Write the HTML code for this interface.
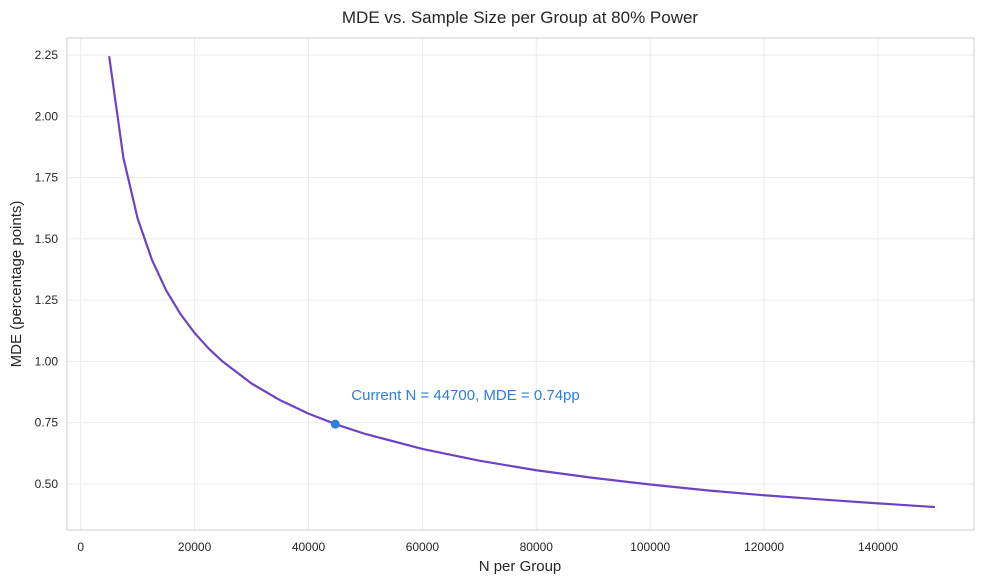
<!DOCTYPE html>
<html><head><meta charset="utf-8"><style>
body{margin:0;background:#fff;}
svg{display:block;font-family:"Liberation Sans","DejaVu Sans",sans-serif;}
</style></head><body>
<svg id="chart" width="984" height="584"></svg>
<script>
const xTicks=[0,20000,40000,60000,80000,100000,120000,140000];
const yTicks=[0.50,0.75,1.00,1.25,1.50,1.75,2.00,2.25];
const nValues=[5000,7500,10000,12500,15000,17500,20000,22500,25000,30000,35000,40000,45000,50000,60000,70000,80000,90000,100000,110000,120000,130000,140000,150000];
const mdeValues=[2.245,1.830,1.583,1.415,1.290,1.194,1.116,1.052,0.998,0.910,0.842,0.787,0.742,0.704,0.643,0.595,0.556,0.525,0.498,0.474,0.454,0.437,0.421,0.406];
const currentN=[44700];
const currentMDE=[0.744];

const NS="http://www.w3.org/2000/svg";
const svg=document.getElementById('chart');
const L=67,R=974,T=38,B=530;
const sx=v=>80.7+v*113.9/20000;
const sy=v=>484-(v-0.5)*(484-55)/1.75;
function mk(tag,attrs,parent){const e=document.createElementNS(NS,tag);for(const k in attrs)e.setAttribute(k,attrs[k]);(parent||svg).appendChild(e);return e;}

const grid=mk('g',{});


xTicks.forEach(t=>{mk('line',{x1:sx(t),x2:sx(t),y1:T,y2:B,stroke:'#ebebeb','stroke-width':1},grid);});
yTicks.forEach(t=>{mk('line',{x1:L,x2:R,y1:sy(t),y2:sy(t),stroke:'#ebebeb','stroke-width':1},grid);});

const frame=mk('rect',{x:L,y:T,width:R-L,height:B-T,fill:'none',stroke:'#cccccc','stroke-width':1});



xTicks.forEach(t=>{const e=mk('text',{x:sx(t),y:551,'text-anchor':'middle','font-size':12,fill:'#262626'});e.textContent=String(t);

});
yTicks.forEach(t=>{const e=mk('text',{x:58,y:sy(t)+4,'text-anchor':'end','font-size':12,fill:'#262626'});e.textContent=t.toFixed(2);

});

const line=mk('polyline',{points:nValues.map((n,i)=>sx(n)+','+sy(mdeValues[i])).join(' '),fill:'none',stroke:'#6b44c4','stroke-width':2.2,'stroke-linejoin':'round'});



currentN.forEach((n,i)=>{const c=mk('circle',{cx:sx(n),cy:sy(currentMDE[i]),r:4.5,fill:'#2e7fd8'});


const a=mk('text',{x:sx(n)+16,y:sy(currentMDE[i])-24,'font-size':15,fill:'#2e7fd8'});a.textContent='Current N = 44700, MDE = 0.74pp';

});

const title=mk('text',{x:520,y:23,'text-anchor':'middle','font-size':17,fill:'#262626'});title.textContent='MDE vs. Sample Size per Group at 80% Power';


const xl=mk('text',{x:520,y:571,'text-anchor':'middle','font-size':15,fill:'#262626'});xl.textContent='N per Group';


const yl=mk('text',{x:21,y:284,'text-anchor':'middle','font-size':15,fill:'#262626',transform:'rotate(-90 21 284)'});yl.textContent='MDE (percentage points)';


</script>
</body></html>
